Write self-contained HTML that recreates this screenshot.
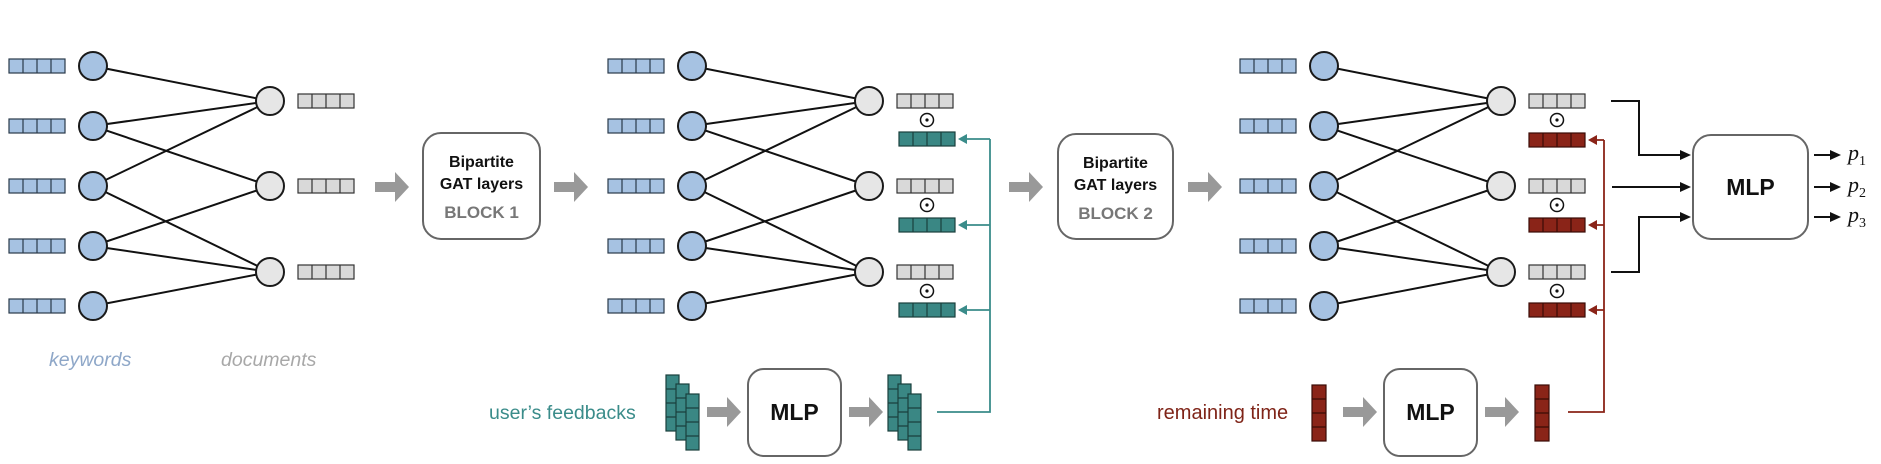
<!DOCTYPE html>
<html><head><meta charset="utf-8"><style>
html,body{margin:0;padding:0;background:#fff;}
svg{display:block;font-family:"Liberation Sans",sans-serif;}
</style></head><body>
<svg width="1881" height="464" viewBox="0 0 1881 464" xmlns="http://www.w3.org/2000/svg">
<defs>
  <g id="bv"><rect x="0" y="-7" width="56" height="14" fill="#a6c2e2" stroke="#2a3a4a" stroke-width="1.2"/><path d="M14-7v14M28-7v14M42-7v14" stroke="#2a3a4a" stroke-width="1.2"/></g>
  <g id="gv"><rect x="0" y="-7" width="56" height="14" fill="#d9d9d9" stroke="#333" stroke-width="1.2"/><path d="M14-7v14M28-7v14M42-7v14" stroke="#333" stroke-width="1.2"/></g>
  <g id="tv"><rect x="0" y="-7" width="56" height="14" fill="#3a8784" stroke="#1a3f3d" stroke-width="1.2"/><path d="M14-7v14M28-7v14M42-7v14" stroke="#1a3f3d" stroke-width="1.2"/></g>
  <g id="rv"><rect x="0" y="-7" width="56" height="14" fill="#8a2418" stroke="#3a0c06" stroke-width="1.2"/><path d="M14-7v14M28-7v14M42-7v14" stroke="#3a0c06" stroke-width="1.2"/></g>
  <g id="tcol"><rect x="0" y="0" width="13" height="56" fill="#3a8784" stroke="#1a3f3d" stroke-width="1.2"/><path d="M0 14h13M0 28h13M0 42h13" stroke="#1a3f3d" stroke-width="1.2"/></g>
  <g id="tstack"><use href="#tcol" x="0" y="0"/><use href="#tcol" x="10" y="9"/><use href="#tcol" x="20" y="19"/></g>
  <g id="rcol"><rect x="0" y="0" width="14" height="56" fill="#8a2418" stroke="#3a0c06" stroke-width="1.2"/><path d="M0 14h14M0 28h14M0 42h14" stroke="#3a0c06" stroke-width="1.2"/></g>
  <path id="garr" d="M0 -5h20v-10l14 15l-14 15v-10h-20z" fill="#999"/>
  <g id="odot"><circle cx="0" cy="0" r="6.5" fill="#fff" stroke="#111" stroke-width="1.5"/><circle cx="0" cy="0" r="1.6" fill="#111"/></g>
  <g id="panel">
    <g stroke="#111" stroke-width="2" fill="none">
      <path d="M93 66L270 101M93 126L270 101M93 126L270 186M93 186L270 101M93 186L270 272M93 246L270 186M93 246L270 272M93 306L270 272"/>
    </g>
    <use href="#bv" x="9" y="66"/><use href="#bv" x="9" y="126"/><use href="#bv" x="9" y="186"/><use href="#bv" x="9" y="246"/><use href="#bv" x="9" y="306"/>
    <g fill="#a6c2e2" stroke="#1a1a1a" stroke-width="2">
      <circle cx="93" cy="66" r="14"/><circle cx="93" cy="126" r="14"/><circle cx="93" cy="186" r="14"/><circle cx="93" cy="246" r="14"/><circle cx="93" cy="306" r="14"/>
    </g>
    <g fill="#e6e6e6" stroke="#1a1a1a" stroke-width="2">
      <circle cx="270" cy="101" r="14"/><circle cx="270" cy="186" r="14"/><circle cx="270" cy="272" r="14"/>
    </g>
    <use href="#gv" x="298" y="101"/><use href="#gv" x="298" y="186"/><use href="#gv" x="298" y="272"/>
  </g>
</defs>

<use href="#panel" x="0" y="0"/>
<text x="49" y="366" font-size="19.5" font-style="italic" fill="#8ea7c8">keywords</text>
<text x="221" y="366" font-size="19.5" font-style="italic" fill="#a8a8a8">documents</text>

<use href="#garr" x="375" y="187"/>
<rect x="423" y="133" width="117" height="106" rx="18" fill="#fff" stroke="#666" stroke-width="2"/>
<text x="481.5" y="167" font-size="16" font-weight="bold" text-anchor="middle" fill="#111">Bipartite</text>
<text x="481.5" y="189" font-size="16" font-weight="bold" text-anchor="middle" fill="#111">GAT layers</text>
<text x="481.5" y="218" font-size="17" font-weight="bold" text-anchor="middle" fill="#777">BLOCK 1</text>
<use href="#garr" x="554" y="187"/>

<use href="#panel" x="599" y="0"/>
<use href="#odot" x="927" y="120"/><use href="#odot" x="927" y="205"/><use href="#odot" x="927" y="291"/>
<use href="#tv" x="899" y="139"/><use href="#tv" x="899" y="225"/><use href="#tv" x="899" y="310"/>
<g stroke="#3a8c8a" stroke-width="1.8" fill="none"><path d="M937 412H990V139M990 139H964M990 225H964M990 310H964"/></g>
<g fill="#3a8c8a"><path d="M958 139l9-5v10z"/><path d="M958 225l9-5v10z"/><path d="M958 310l9-5v10z"/></g>

<text x="489" y="419" font-size="19.5" fill="#3a8c8a">user’s feedbacks</text>
<use href="#tstack" x="666" y="375"/>
<use href="#garr" x="707" y="412"/>
<rect x="748" y="369" width="93" height="87" rx="16" fill="#fff" stroke="#666" stroke-width="2"/>
<text x="794.5" y="420" font-size="23" font-weight="bold" text-anchor="middle" fill="#111">MLP</text>
<use href="#garr" x="849" y="412"/>
<use href="#tstack" x="888" y="375"/>

<use href="#garr" x="1009" y="187"/>
<rect x="1058" y="134" width="115" height="105" rx="18" fill="#fff" stroke="#666" stroke-width="2"/>
<text x="1115.5" y="168" font-size="16" font-weight="bold" text-anchor="middle" fill="#111">Bipartite</text>
<text x="1115.5" y="190" font-size="16" font-weight="bold" text-anchor="middle" fill="#111">GAT layers</text>
<text x="1115.5" y="219" font-size="17" font-weight="bold" text-anchor="middle" fill="#777">BLOCK 2</text>
<use href="#garr" x="1188" y="187"/>

<use href="#panel" x="1231" y="0"/>
<use href="#odot" x="1557" y="120"/><use href="#odot" x="1557" y="205"/><use href="#odot" x="1557" y="291"/>
<use href="#rv" x="1529" y="140"/><use href="#rv" x="1529" y="225"/><use href="#rv" x="1529" y="310"/>
<g stroke="#8a2418" stroke-width="1.8" fill="none"><path d="M1568 412H1604V140M1604 140H1594M1604 225H1594M1604 310H1594"/></g>
<g fill="#8a2418"><path d="M1588 140l9-5v10z"/><path d="M1588 225l9-5v10z"/><path d="M1588 310l9-5v10z"/></g>

<text x="1157" y="419" font-size="20" fill="#7f2418">remaining time</text>
<use href="#rcol" x="1312" y="385"/>
<use href="#garr" x="1343" y="412"/>
<rect x="1384" y="369" width="93" height="87" rx="16" fill="#fff" stroke="#666" stroke-width="2"/>
<text x="1430.5" y="420" font-size="23" font-weight="bold" text-anchor="middle" fill="#111">MLP</text>
<use href="#garr" x="1485" y="412"/>
<use href="#rcol" x="1535" y="385"/>

<g stroke="#111" stroke-width="2" fill="none">
  <path d="M1611 101H1639V155H1682M1612 187H1682M1611 272H1639V217H1682"/>
  <path d="M1814 155H1832M1814 187H1832M1814 217H1832"/>
</g>
<g fill="#111">
  <path d="M1691 155l-11-5v10z"/><path d="M1691 187l-11-5v10z"/><path d="M1691 217l-11-5v10z"/>
  <path d="M1841 155l-11-5v10z"/><path d="M1841 187l-11-5v10z"/><path d="M1841 217l-11-5v10z"/>
</g>
<rect x="1693" y="135" width="115" height="104" rx="18" fill="#fff" stroke="#666" stroke-width="2"/>
<text x="1750.5" y="195" font-size="23" font-weight="bold" text-anchor="middle" fill="#111">MLP</text>
<g font-family="Liberation Serif,serif" fill="#111">
  <text x="1848" y="160" font-size="22" font-style="italic">p<tspan font-size="14" font-style="normal" dy="5">1</tspan></text>
  <text x="1848" y="192" font-size="22" font-style="italic">p<tspan font-size="14" font-style="normal" dy="5">2</tspan></text>
  <text x="1848" y="222" font-size="22" font-style="italic">p<tspan font-size="14" font-style="normal" dy="5">3</tspan></text>
</g>
</svg>
</body></html>
